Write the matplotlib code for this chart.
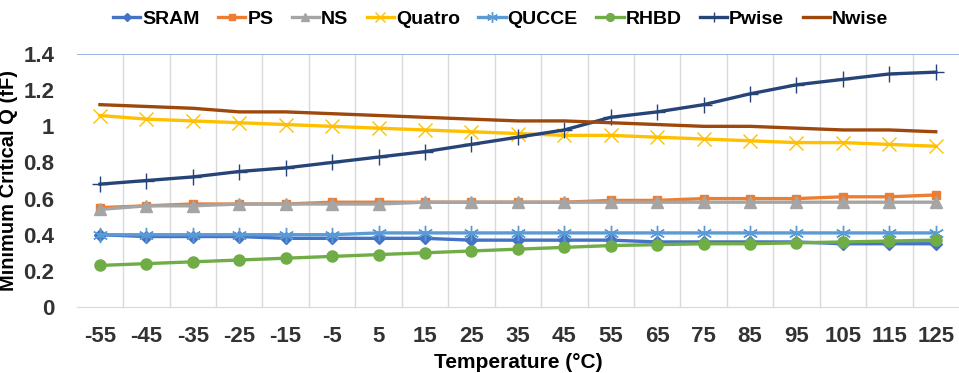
import numpy as np
import matplotlib.pyplot as plt

plt.rcParams['font.family'] = ['Liberation Sans', 'DejaVu Sans']
plt.rcParams['font.weight'] = 'bold'

temps = [-55, -45, -35, -25, -15, -5, 5, 15, 25, 35, 45, 55, 65, 75, 85, 95, 105, 115, 125]

sram = [0.40, 0.39, 0.39, 0.39, 0.38, 0.38, 0.38, 0.38, 0.37, 0.37, 0.37, 0.37, 0.36,
        0.36, 0.36, 0.36, 0.35, 0.35, 0.35]
ps = [0.55, 0.56, 0.57, 0.57, 0.57, 0.58, 0.58, 0.58, 0.58, 0.58, 0.58, 0.59, 0.59,
      0.60, 0.60, 0.60, 0.61, 0.61, 0.62]
ns = [0.54, 0.56, 0.56, 0.57, 0.57, 0.57, 0.57, 0.58, 0.58, 0.58, 0.58, 0.58, 0.58,
      0.58, 0.58, 0.58, 0.58, 0.58, 0.58]
quatro = [1.06, 1.04, 1.03, 1.02, 1.01, 1.00, 0.99, 0.98, 0.97, 0.96, 0.95, 0.95, 0.94,
          0.93, 0.92, 0.91, 0.91, 0.90, 0.89]
qucce = [0.40, 0.40, 0.40, 0.40, 0.40, 0.40, 0.41, 0.41, 0.41, 0.41, 0.41, 0.41, 0.41,
         0.41, 0.41, 0.41, 0.41, 0.41, 0.41]
rhbd = [0.23, 0.24, 0.25, 0.26, 0.27, 0.28, 0.29, 0.30, 0.31, 0.32, 0.33, 0.34, 0.345,
        0.35, 0.35, 0.355, 0.36, 0.365, 0.37]
pwise = [0.68, 0.70, 0.72, 0.75, 0.77, 0.80, 0.83, 0.86, 0.90, 0.94, 0.98, 1.05, 1.08,
         1.12, 1.18, 1.23, 1.26, 1.29, 1.30]
nwise = [1.12, 1.11, 1.10, 1.08, 1.08, 1.07, 1.06, 1.05, 1.04, 1.03, 1.03, 1.02, 1.01,
         1.00, 1.00, 0.99, 0.98, 0.98, 0.97]

series = [
    ('SRAM', sram, '#4472C4', 'D', 6),
    ('PS', ps, '#ED7D31', 's', 6),
    ('NS', ns, '#A5A5A5', '^', 8),
    ('Quatro', quatro, '#FFC000', 'x', 10),
    ('QUCCE', qucce, '#5B9BD5', (6, 2, 0), 11),
    ('RHBD', rhbd, '#70AD47', 'o', 8),
    ('Pwise', pwise, '#264478', '+', 11),
    ('Nwise', nwise, '#9E480E', None, 0),
]

fig = plt.figure(figsize=(9.59, 3.73), dpi=100)
ax = fig.add_axes([0.080, 0.177, 0.920, 0.678])

x = np.arange(len(temps))
handles = []
for name, vals, color, marker, ms in series:
    h, = ax.plot(x, vals, color=color, lw=2.4, marker=marker, markersize=ms,
                 markeredgewidth=1.0, label=name)
    handles.append(h)

ax.set_xlim(-0.5, len(temps) - 0.5)
ax.set_ylim(0, 1.4)
ax.set_yticks(np.arange(0, 1.41, 0.2))
ax.set_yticklabels(['0', '0.2', '0.4', '0.6', '0.8', '1', '1.2', '1.4'])
ax.set_xticks(x)
ax.set_xticklabels([str(t) for t in temps])

# category boundaries as vertical gridlines
for b in np.arange(0.5, len(temps) - 0.5, 1):
    ax.axvline(b, color='#D9D9D9', lw=1, zorder=0)
ax.axhline(1.4, color='#8EA9DB', lw=1.2, zorder=0)

for side in ['top', 'right', 'left']:
    ax.spines[side].set_visible(False)
ax.spines['bottom'].set_color('#D9D9D9')
ax.tick_params(axis='both', length=0, labelsize=16, colors='#333333')
ax.tick_params(axis='x', pad=14)
ax.tick_params(axis='y', pad=16)

ax.set_xlabel('Temperature (°C)', fontsize=15, fontweight='bold', labelpad=4)
ax.set_ylabel('Minimum Critical Q (fF)', fontsize=14.5, fontweight='bold')
ax.yaxis.set_label_coords(-0.066, 0.5)

fig.legend(handles=handles, loc='upper center', bbox_to_anchor=(0.522, 1.02), ncol=8,
           frameon=False, fontsize=14, handlelength=1.4, handletextpad=0.1,
           columnspacing=0.95, markerscale=0.7)

fig.savefig('out.png', dpi=100)
